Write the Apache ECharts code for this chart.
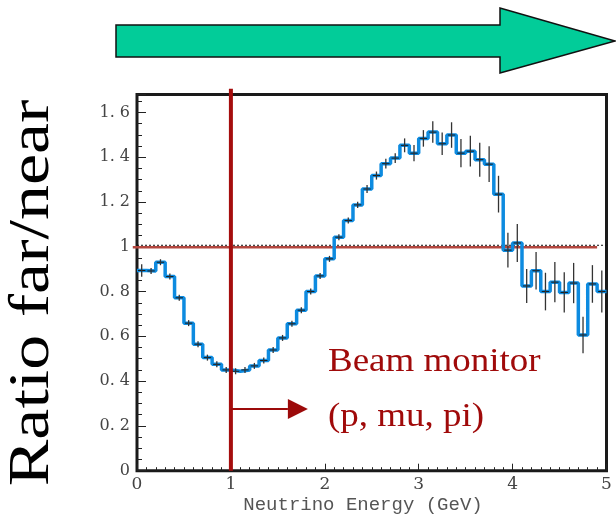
<!DOCTYPE html>
<html><head><meta charset="utf-8">
<script src="https://cdn.jsdelivr.net/npm/echarts@6/dist/echarts.min.js"></script>
<style>html,body{margin:0;padding:0;background:#fff}#c{width:616px;height:516px}</style>
</head><body><div id="c"></div>
<script>
// Bin lower edges (GeV), bin width 0.1
const binStart = [0.0,0.1,0.2,0.3,0.4,0.5,0.6,0.7,0.8,0.9,1.0,1.1,1.2,1.3,1.4,1.5,1.6,1.7,1.8,1.9,
  2.0,2.1,2.2,2.3,2.4,2.5,2.6,2.7,2.8,2.9,3.0,3.1,3.2,3.3,3.4,3.5,3.6,3.7,3.8,3.9,
  4.0,4.1,4.2,4.3,4.4,4.5,4.6,4.7,4.8,4.9];
const binWidth = 0.1;
const ratio = [0.894,0.892,0.931,0.867,0.772,0.659,0.565,0.505,0.475,0.450,
  0.444,0.450,0.468,0.492,0.539,0.593,0.656,0.717,0.800,0.870,
  0.946,1.043,1.117,1.187,1.258,1.318,1.371,1.396,1.453,1.418,
  1.484,1.512,1.460,1.499,1.418,1.427,1.389,1.369,1.235,0.985,
  1.017,0.825,0.893,0.800,0.842,0.796,0.838,0.606,0.834,0.800];
const ratioErr = [0.028,0.010,0.010,0.008,0.007,0.007,0.006,0.006,0.006,0.006,
  0.006,0.006,0.006,0.006,0.007,0.007,0.007,0.008,0.008,0.009,
  0.009,0.010,0.011,0.014,0.018,0.018,0.022,0.022,0.031,0.036,
  0.037,0.048,0.050,0.057,0.063,0.069,0.076,0.080,0.082,0.078,
  0.085,0.076,0.084,0.084,0.090,0.090,0.090,0.082,0.084,0.094];
const yTicks = [0,0.2,0.4,0.6,0.8,1.0,1.2,1.4,1.6];
const xTicks = [0,1,2,3,4,5];
const refLevel = 1.0;          // horizontal reference at ratio = 1
const cutEnergy = 1.0;         // vertical beam-monitor line
const arrowY = 0.276, arrowEndX = 1.82;

const stepData = binStart.map((x,i)=>[x, ratio[i]]);
stepData.push([binStart[binStart.length-1]+binWidth, ratio[ratio.length-1]]);
const errData = binStart.map((x,i)=>[x, x+binWidth, ratio[i], ratioErr[i]]);

const chart = echarts.init(document.getElementById('c'), null, {renderer:'canvas'});
const tickFont = 'DejaVu Serif';
chart.setOption({
  animation:false,
  backgroundColor:'#fff',
  grid:{left:137,right:9.5,top:94.5,bottom:45.3,show:true,borderColor:'#1a1a1a',borderWidth:3,backgroundColor:'transparent'},
  xAxis:{type:'value',min:0,max:5,interval:1,
    axisLine:{show:false},
    axisTick:{show:true,inside:true,length:7,lineStyle:{color:'#222',width:1}},
    minorTick:{show:true,splitNumber:10,length:3.5,lineStyle:{color:'#222',width:1}},
    splitLine:{show:false},
    axisLabel:{fontFamily:tickFont,fontSize:17,color:'#444',margin:5,
      formatter:v=> xTicks.indexOf(v)>=0 ? String(v):''}
  },
  yAxis:{type:'value',min:0,max:1.68,interval:0.2,
    axisLine:{show:false},
    axisTick:{show:true,inside:true,length:9,lineStyle:{color:'#222',width:1}},
    minorTick:{show:true,splitNumber:4,length:5,lineStyle:{color:'#222',width:1}},
    splitLine:{show:false},
    axisLabel:{fontFamily:tickFont,fontSize:16,color:'#444',margin:7,
      formatter:v=>{
        const t = yTicks.find(k=>Math.abs(k-v)<1e-6);
        if(t===undefined) return '';
        if(t===0) return '0';
        if(Math.abs(t-1)<1e-6) return '1';
        return t.toFixed(1).replace('.', '. ');
      }}
  },
  series:[
    { // reference lines at ratio = 1
      type:'custom', z:2, silent:true,
      data:[[0,5,refLevel]],
      renderItem:(p,api)=>{
        const a = api.coord([api.value(0), api.value(2)]);
        const b = api.coord([api.value(1), api.value(2)]);
        const r0 = api.coord([-0.045, api.value(2)]);
        const r1 = api.coord([4.9, api.value(2)]);
        return {type:'group',children:[
          {type:'line',shape:{x1:a[0],y1:a[1]-1.5,x2:b[0],y2:b[1]-1.5},style:{stroke:'#111',lineWidth:1,lineDash:[2,2]}},
          {type:'line',shape:{x1:r0[0],y1:r0[1]+0.5,x2:r1[0],y2:r1[1]+0.5},style:{stroke:'#b4473f',lineWidth:2.5}}
        ]};
      }
    },
    { type:'line', step:'end', data:stepData, showSymbol:false, z:3, clip:true,
      lineStyle:{color:'#0d8be0',width:3.5} },
    { type:'custom', z:4, silent:true, data:errData,
      renderItem:(p,api)=>{
        const x0=api.value(0), x1=api.value(1), v=api.value(2), e=api.value(3);
        const l = api.coord([x0,v]), r = api.coord([x1,v]);
        const c = api.coord([(x0+x1)/2, v]);
        const t = api.coord([(x0+x1)/2, v+e]), bt = api.coord([(x0+x1)/2, v-e]);
        return {type:'group',children:[
          {type:'line',shape:{x1:l[0]+1,y1:l[1],x2:r[0]-1,y2:r[1]},style:{stroke:'#1a1a1a',lineWidth:1}},
          {type:'line',shape:{x1:c[0],y1:Math.min(t[1],c[1]-3),x2:c[0],y2:Math.max(bt[1],c[1]+3)},style:{stroke:'#333',lineWidth:1.3}}
        ]};
      }
    },
    { // beam monitor cut line and arrow
      type:'custom', z:5, silent:true,
      data:[[cutEnergy, arrowY, arrowEndX]],
      renderItem:(p,api)=>{
        const xc=api.value(0), ay=api.value(1), ax=api.value(2);
        const top = api.coord([xc,1.706]), bot = api.coord([xc,0]);
        const s = api.coord([xc,ay]), e = api.coord([ax,ay]);
        return {type:'group',children:[
          {type:'line',shape:{x1:top[0],y1:top[1],x2:bot[0],y2:bot[1]},style:{stroke:'#a50d0d',lineWidth:4}},
          {type:'line',shape:{x1:s[0],y1:s[1],x2:e[0]-20,y2:e[1]},style:{stroke:'#9c0a0a',lineWidth:2}},
          {type:'polygon',shape:{points:[[e[0]-20,e[1]-10],[e[0],e[1]],[e[0]-20,e[1]+10]]},style:{fill:'#9c0a0a'}}
        ]};
      }
    }
  ],
  graphic:[
    {type:'polygon',shape:{points:[[116,25],[500,25],[500,8],[615,41],[500,73],[500,57],[116,57]]},
      style:{fill:'#02cc99',stroke:'#111',lineWidth:1.5}},
    {type:'text',x:328,y:362,scaleX:1.12,style:{text:'Beam monitor',font:'33px "Liberation Serif"',fill:'#a00a0a',textVerticalAlign:'middle',textAlign:'left'}},
    {type:'text',x:328,y:417,scaleX:1.12,style:{text:'(p, mu, pi)',font:'33px "Liberation Serif"',fill:'#a00a0a',textVerticalAlign:'middle',textAlign:'left'}},
    {type:'text',x:33,y:293,rotation:Math.PI/2,scaleX:1.25,style:{text:'Ratio far/near',font:'56px "Liberation Serif"',fill:'#000',textAlign:'center',textVerticalAlign:'middle'}},
    {type:'text',x:363,y:505,style:{text:'Neutrino Energy (GeV)',font:'19px "Liberation Mono"',fill:'#555',textAlign:'center',textVerticalAlign:'middle'}}
  ]
});
</script></body></html>
